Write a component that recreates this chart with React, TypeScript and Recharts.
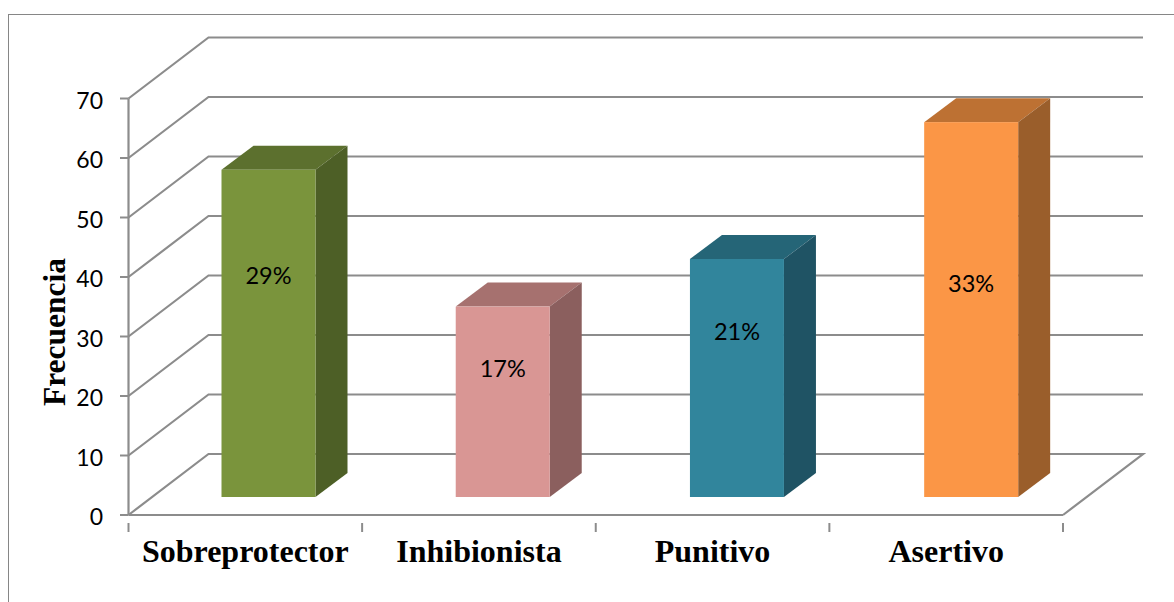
import { BarChart, Bar, CartesianGrid, XAxis, YAxis } from "recharts";

const categories = ["Sobreprotector", "Inhibionista", "Punitivo", "Asertivo"];
const frequencies = [55, 32, 40, 63];
const percentLabels = ["29%", "17%", "21%", "33%"];
// hand-placed in the original: the height of each label on the value axis
const percentLabelLevels = [40.3, 24.7, 30.9, 39];
const yTicks = [0, 10, 20, 30, 40, 50, 60, 70];

const frontColors = ["#7a943c", "#d99694", "#31859c", "#fb9646"];
const topColors = ["#5c702e", "#a6716f", "#256577", "#bd7133"];
const sideColors = ["#4d5f26", "#8b5f5e", "#1f5364", "#9a5e2b"];

const rows = categories.map((name, i) => ({
  name,
  value: frequencies[i],
  label: percentLabels[i],
  level: percentLabelLevels[i],
}));

const WIDTH = 1174;
const HEIGHT = 602;
const PLOT_LEFT = 128.5;
const PLOT_TOP = 98.5;
const PLOT_RIGHT = 1063;
const PLOT_BOTTOM = 515;
const BAND = (PLOT_RIGHT - PLOT_LEFT) / categories.length;

// depth of the fake 3D box
const WALL_DX = 80;
const WALL_DY = 61;
const BAR_SHIFT_X = 23;
const BAR_SHIFT_Y = 18;
const BAR_SPREAD = 0.6; // bars sit a touch wider apart than the ticks
const BAR_DX = 32;
const BAR_DY = 24;

const GRID = "#8c8c8c";
const LABEL_FONT = "Lato, sans-serif";
const TITLE_FONT = "'Liberation Serif', serif";

function WallLine(props: any) {
  const { x1, x2, y1 } = props;
  const backY = y1 - WALL_DY;
  const isFloor = Math.abs(y1 - PLOT_BOTTOM) < 1;
  const pts = [
    [x1, y1],
    [x1 + WALL_DX, backY],
    [x2 + WALL_DX, backY],
  ];
  if (isFloor) pts.push([x2, y1]);
  return (
    <polyline
      points={pts.map((p) => p.join(",")).join(" ")}
      fill="none"
      stroke={GRID}
      strokeWidth={2.2}
    />
  );
}

function Box3D(props: any) {
  const { x, y, width, height, index, payload } = props;
  const left = x + BAR_SHIFT_X + BAR_SPREAD * index;
  const top = y - BAR_SHIFT_Y;
  const right = left + width;
  const bottom = top + height;
  const labelY = bottom + BAR_SHIFT_Y - (payload.level * height) / payload.value;
  return (
    <g>
      <polygon
        points={`${left},${top} ${right},${top} ${right + BAR_DX},${top - BAR_DY} ${left + BAR_DX},${top - BAR_DY}`}
        fill={topColors[index]}
      />
      <polygon
        points={`${right},${top} ${right + BAR_DX},${top - BAR_DY} ${right + BAR_DX},${bottom - BAR_DY} ${right},${bottom}`}
        fill={sideColors[index]}
      />
      <rect x={left} y={top} width={width} height={height} fill={frontColors[index]} />
      <text
        x={left + width / 2}
        y={labelY}
        textAnchor="middle"
        dominantBaseline="central"
        fontFamily={LABEL_FONT}
        fontSize={23.5}
        fill="#000"
      >
        {payload.label}
      </text>
    </g>
  );
}

function ValueTick(props: any) {
  const { x, y, payload } = props;
  return (
    <text
      x={x}
      y={y + 1}
      textAnchor="end"
      dominantBaseline="central"
      fontFamily={LABEL_FONT}
      fontSize={23}
      fill="#000"
    >
      {payload.value}
    </text>
  );
}

function CategoryTick(props: any) {
  const { x, y, payload, index } = props;
  const tickLeft = x - BAND / 2;
  const isLast = index === categories.length - 1;
  return (
    <g>
      <line x1={tickLeft} x2={tickLeft} y1={y} y2={y + 9} stroke={GRID} strokeWidth={2} />
      {isLast && <line x1={tickLeft + BAND} x2={tickLeft + BAND} y1={y} y2={y + 9} stroke={GRID} strokeWidth={2} />}
      <text
        x={x}
        y={y + 39}
        textAnchor="middle"
        fontFamily={TITLE_FONT}
        fontWeight="bold"
        fontSize={32}
        fill="#000"
      >
        {payload.value}
      </text>
    </g>
  );
}

function AxisTitle() {
  return (
    <text
      transform="rotate(-90 65 332)"
      x={65}
      y={332}
      textAnchor="middle"
      fontFamily={TITLE_FONT}
      fontWeight="bold"
      fontSize={31.5}
      fill="#000"
    >
      Frecuencia
    </text>
  );
}

export default function App() {
  return (
    <div style={{ position: "absolute", left: 0, top: 0, width: WIDTH, height: HEIGHT, overflow: "hidden", background: "#fff" }}>
      <div
        style={{
          position: "absolute",
          left: 8,
          top: 14,
          right: 0,
          bottom: 0,
          borderLeft: "1px solid #868686",
          borderTop: "1px solid #868686",
        }}
      />
      <BarChart
        width={WIDTH}
        height={HEIGHT}
        data={rows}
        margin={{ top: PLOT_TOP, right: WIDTH - PLOT_RIGHT, bottom: 27, left: PLOT_LEFT - 100 }}
        style={{ position: "absolute", left: 0, top: 0 }}
      >
        <CartesianGrid vertical={false} horizontal={(p: any) => <WallLine key={p.key} {...p} />} />
        <XAxis
          dataKey="name"
          height={60}
          interval={0}
          axisLine={{ stroke: GRID, strokeWidth: 2.2 }}
          tickLine={false}
          tick={(p: any) => <CategoryTick {...p} />}
        />
        <YAxis
          width={100}
          domain={[0, 70]}
          ticks={yTicks}
          interval={0}
          axisLine={{ stroke: GRID, strokeWidth: 2.2 }}
          tickLine={{ stroke: GRID, strokeWidth: 2 }}
          tickSize={8.5}
          tickMargin={17}
          tick={(p: any) => <ValueTick {...p} />}
          label={{ content: () => <AxisTitle /> }}
        />
        <Bar dataKey="value" barSize={94} isAnimationActive={false} shape={(p: any) => <Box3D {...p} />} />
      </BarChart>
    </div>
  );
}
